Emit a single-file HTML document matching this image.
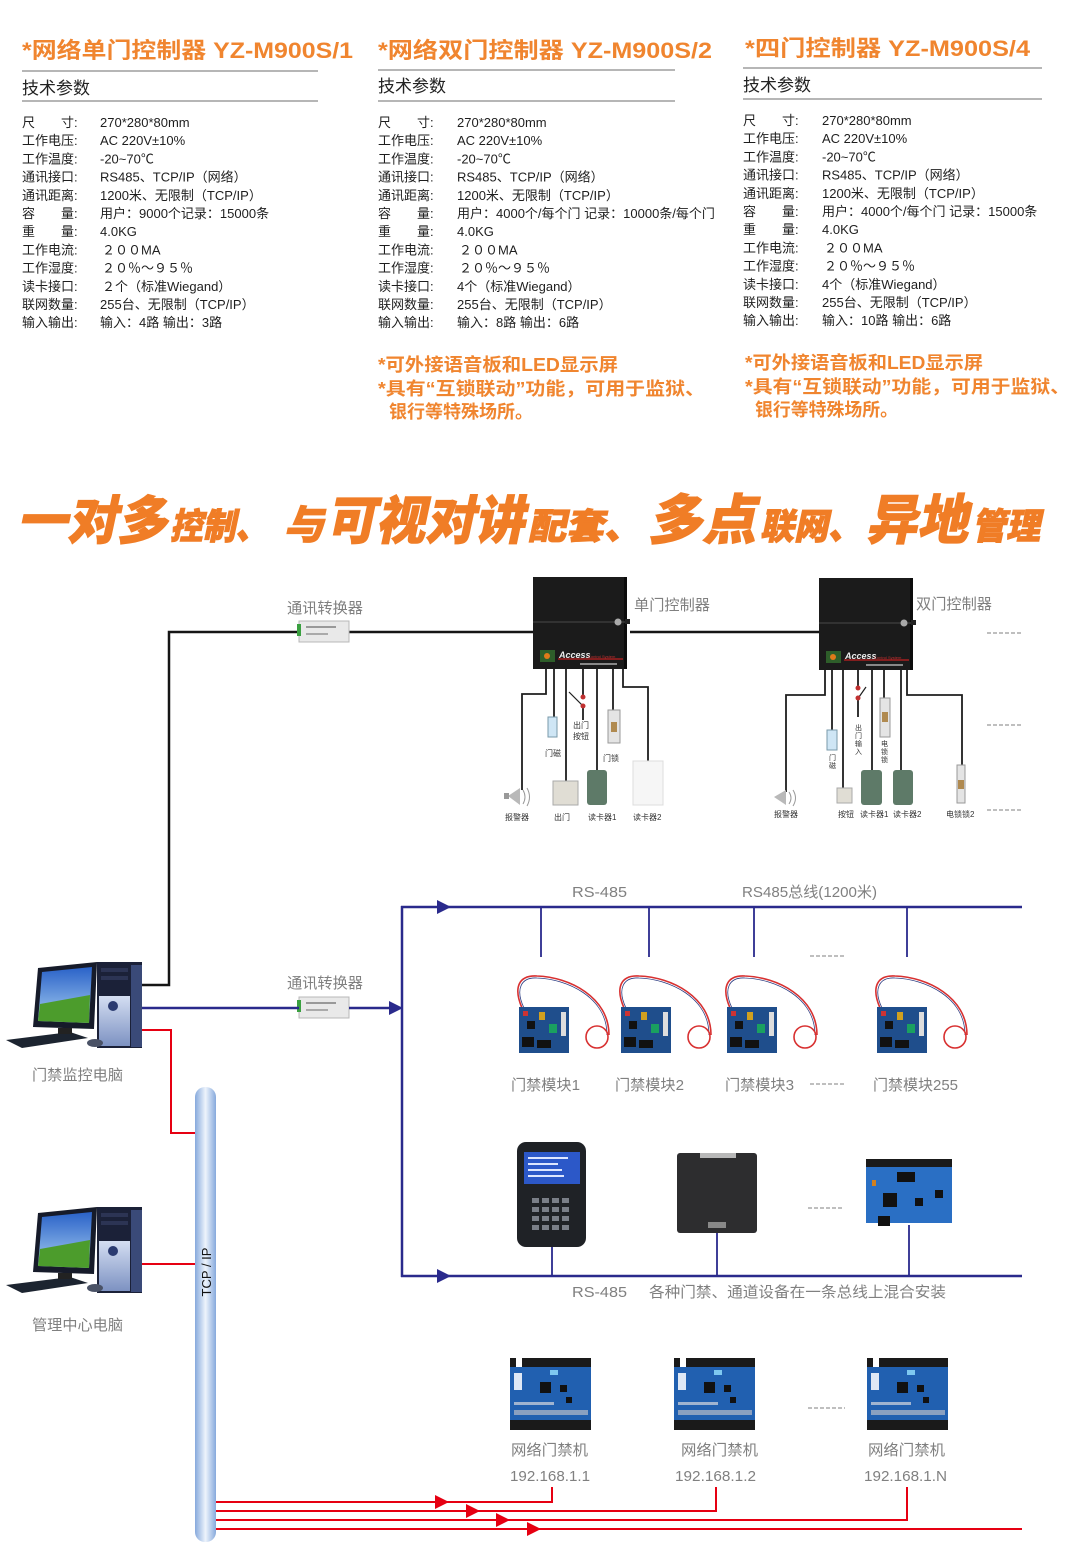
<!DOCTYPE html>
<html><head><meta charset="utf-8">
<style>
html,body{margin:0;padding:0;background:#fff;}
svg{display:block;}
</style></head>
<body>
<svg width="1080" height="1563" viewBox="0 0 1080 1563" xmlns="http://www.w3.org/2000/svg" xmlns:xlink="http://www.w3.org/1999/xlink" font-family="'Liberation Sans','Noto Sans CJK SC',sans-serif">
<defs>
  <linearGradient id="pil" x1="0" x2="1" y1="0" y2="0">
    <stop offset="0" stop-color="#86a9dc"/><stop offset="0.5" stop-color="#eef4fc"/><stop offset="1" stop-color="#86a9dc"/>
  </linearGradient>
  <linearGradient id="sky" x1="0" x2="0" y1="0" y2="1">
    <stop offset="0" stop-color="#2a62c8"/><stop offset="1" stop-color="#a8d0f2"/>
  </linearGradient>
  <linearGradient id="silv" x1="0" x2="0" y1="0" y2="1">
    <stop offset="0" stop-color="#d4def2"/><stop offset="1" stop-color="#7d92c2"/>
  </linearGradient>
  <g id="pc">
    <polygon points="6,1040 70,1032 88,1038 22,1048" fill="#1c2430"/>
    <polygon points="38,968 97,962 94,1029 33,1027" fill="#161b2a"/>
    <polygon points="42,972 92,967 89,1023 38,1021" fill="url(#sky)"/>
    <polygon points="40,1004 90,995 89,1023 38,1021" fill="#4c9c2c"/>
    <rect x="58" y="1028" width="14" height="6" fill="#222"/>
    <rect x="97" y="962" width="45" height="86" fill="#1b2138"/>
    <rect x="99" y="996" width="31" height="50" fill="url(#silv)"/>
    <rect x="131" y="965" width="11" height="82" fill="#3a4a78"/>
    <rect x="101" y="968" width="27" height="4" fill="#2c3454"/>
    <rect x="101" y="976" width="27" height="4" fill="#2c3454"/>
    <circle cx="113" cy="1006" r="5" fill="#2a3a70"/>
    <ellipse cx="95" cy="1043" rx="8" ry="4" fill="#4a5266"/>
  </g>
  <g id="ctl">
    <rect x="0" y="0" width="94" height="92" fill="#1b1b1b"/>
    <rect x="91" y="0" width="3" height="92" fill="#0c0c0c"/>
    <line x1="0" y1="45" x2="94" y2="45" stroke="#4a4a4a" stroke-width="1"/>
    <circle cx="85" cy="45" r="3.5" fill="#aaa"/>
    <rect x="92" y="42" width="5" height="5" fill="#222"/>
    <rect x="7" y="73" width="15" height="12" fill="#2e5e2a"/>
    <circle cx="14" cy="79" r="3" fill="#e07a1a"/>
    <text x="26" y="81" font-size="9" font-weight="bold" font-style="italic" fill="#eee">Access</text>
    <line x1="25" y1="82" x2="90" y2="82" stroke="#c02020" stroke-width="1.2"/>
    <text x="55" y="81" font-size="4" fill="#c03030">Control System</text>
    <rect x="47" y="86" width="37" height="2" fill="#888"/>
  </g>
  <g id="mod">
    <path d="M3,1 C-6,-20 0,-32 18,-31 C50,-30 90,-10 90,28" fill="none" stroke="#d83030" stroke-width="1.6"/>
    <path d="M5,1 C-4,-18 2,-30 18,-29 C48,-28 88,-10 88,28" fill="none" stroke="#2a3a80" stroke-width="0.8"/>
    <circle cx="78" cy="30" r="11" fill="none" stroke="#d83030" stroke-width="1.6"/>
    <rect x="0" y="0" width="50" height="46" fill="#1f4e8c"/>
    <rect x="3" y="30" width="12" height="10" fill="#111"/>
    <rect x="18" y="33" width="14" height="8" fill="#111"/>
    <rect x="30" y="17" width="8" height="9" fill="#1aa060"/>
    <rect x="20" y="5" width="6" height="8" fill="#d0a020"/>
    <rect x="42" y="5" width="5" height="24" fill="#ddd"/>
    <rect x="8" y="14" width="8" height="8" fill="#111"/>
    <rect x="4" y="4" width="5" height="5" fill="#c33"/>
  </g>
  <g id="nb">
    <rect x="0" y="0" width="81" height="9" fill="#1a1a1a"/>
    <rect x="6" y="0" width="6" height="9" fill="#fff"/>
    <rect x="0" y="9" width="81" height="53" fill="#2160b0"/>
    <rect x="0" y="62" width="81" height="10" fill="#1a1a1a"/>
    <rect x="4" y="15" width="8" height="17" fill="#dfe8f5"/>
    <rect x="30" y="24" width="11" height="11" fill="#111"/>
    <rect x="50" y="27" width="7" height="7" fill="#111"/>
    <rect x="56" y="39" width="6" height="6" fill="#111"/>
    <rect x="40" y="12" width="8" height="5" fill="#7ec8f0"/>
    <rect x="4" y="52" width="74" height="5" fill="#8aa0c0"/>
    <rect x="4" y="44" width="40" height="3" fill="#a0b4d0"/>
  </g>
</defs>

<!-- ===== TOP SPEC COLUMNS ===== -->
<g fill="#f0852f" font-weight="bold" font-size="22">
  <text x="22" y="58" textLength="331" lengthAdjust="spacingAndGlyphs">*网络单门控制器 YZ-M900S/1</text>
  <text x="378" y="58" textLength="334" lengthAdjust="spacingAndGlyphs">*网络双门控制器 YZ-M900S/2</text>
  <text x="745" y="56" textLength="285" lengthAdjust="spacingAndGlyphs">*四门控制器 YZ-M900S/4</text>
</g>
<g stroke="#8a8a8a" stroke-width="1.3">
  <line x1="22" y1="71" x2="318" y2="71"/><line x1="22" y1="101" x2="318" y2="101"/>
  <line x1="378" y1="70" x2="675" y2="70"/><line x1="378" y1="101" x2="675" y2="101"/>
  <line x1="743" y1="68" x2="1042" y2="68"/><line x1="743" y1="99" x2="1042" y2="99"/>
</g>
<g fill="#222" font-size="17">
  <text x="22" y="94">技术参数</text>
  <text x="378" y="92">技术参数</text>
  <text x="743" y="91">技术参数</text>
</g>

<g font-size="13" fill="#1e1e1e">
  <g transform="translate(22,0)">
    <text x="0" y="127">尺</text><text x="39" y="127">寸:</text><text x="78" y="127">270*280*80mm</text>
    <text x="0" y="145.2">工作电压:</text><text x="78" y="145.2">AC 220V±10%</text>
    <text x="0" y="163.4">工作温度:</text><text x="78" y="163.4">-20~70℃</text>
    <text x="0" y="181.6">通讯接口:</text><text x="78" y="181.6">RS485、TCP/IP（网络）</text>
    <text x="0" y="199.8">通讯距离:</text><text x="78" y="199.8">1200米、无限制（TCP/IP）</text>
    <text x="0" y="218">容</text><text x="39" y="218">量:</text><text x="78" y="218">用户：9000个记录：15000条</text>
    <text x="0" y="236.2">重</text><text x="39" y="236.2">量:</text><text x="78" y="236.2">4.0KG</text>
    <text x="0" y="254.4">工作电流:</text><text x="80" y="254.4">２００MA</text>
    <text x="0" y="272.6">工作湿度:</text><text x="80" y="272.6">２０％～９５％</text>
    <text x="0" y="290.8">读卡接口:</text><text x="80" y="290.8">２个（标准Wiegand）</text>
    <text x="0" y="309">联网数量:</text><text x="78" y="309">255台、无限制（TCP/IP）</text>
    <text x="0" y="327.2">输入输出:</text><text x="78" y="327.2">输入：4路  输出：3路</text>
  </g>
  <g transform="translate(378,0)">
    <text x="0" y="127">尺</text><text x="39" y="127">寸:</text><text x="79" y="127">270*280*80mm</text>
    <text x="0" y="145.2">工作电压:</text><text x="79" y="145.2">AC 220V±10%</text>
    <text x="0" y="163.4">工作温度:</text><text x="79" y="163.4">-20~70℃</text>
    <text x="0" y="181.6">通讯接口:</text><text x="79" y="181.6">RS485、TCP/IP（网络）</text>
    <text x="0" y="199.8">通讯距离:</text><text x="79" y="199.8">1200米、无限制（TCP/IP）</text>
    <text x="0" y="218">容</text><text x="39" y="218">量:</text><text x="79" y="218">用户：4000个/每个门 记录：10000条/每个门</text>
    <text x="0" y="236.2">重</text><text x="39" y="236.2">量:</text><text x="79" y="236.2">4.0KG</text>
    <text x="0" y="254.4">工作电流:</text><text x="81" y="254.4">２００MA</text>
    <text x="0" y="272.6">工作湿度:</text><text x="81" y="272.6">２０％～９５％</text>
    <text x="0" y="290.8">读卡接口:</text><text x="79" y="290.8">4个（标准Wiegand）</text>
    <text x="0" y="309">联网数量:</text><text x="79" y="309">255台、无限制（TCP/IP）</text>
    <text x="0" y="327.2">输入输出:</text><text x="79" y="327.2">输入：8路  输出：6路</text>
  </g>
  <g transform="translate(743,-2)">
    <text x="0" y="127">尺</text><text x="39" y="127">寸:</text><text x="79" y="127">270*280*80mm</text>
    <text x="0" y="145.2">工作电压:</text><text x="79" y="145.2">AC 220V±10%</text>
    <text x="0" y="163.4">工作温度:</text><text x="79" y="163.4">-20~70℃</text>
    <text x="0" y="181.6">通讯接口:</text><text x="79" y="181.6">RS485、TCP/IP（网络）</text>
    <text x="0" y="199.8">通讯距离:</text><text x="79" y="199.8">1200米、无限制（TCP/IP）</text>
    <text x="0" y="218">容</text><text x="39" y="218">量:</text><text x="79" y="218">用户：4000个/每个门 记录：15000条</text>
    <text x="0" y="236.2">重</text><text x="39" y="236.2">量:</text><text x="79" y="236.2">4.0KG</text>
    <text x="0" y="254.4">工作电流:</text><text x="81" y="254.4">２００MA</text>
    <text x="0" y="272.6">工作湿度:</text><text x="81" y="272.6">２０％～９５％</text>
    <text x="0" y="290.8">读卡接口:</text><text x="79" y="290.8">4个（标准Wiegand）</text>
    <text x="0" y="309">联网数量:</text><text x="79" y="309">255台、无限制（TCP/IP）</text>
    <text x="0" y="327.2">输入输出:</text><text x="79" y="327.2">输入：10路  输出：6路</text>
  </g>
</g>

<g fill="#f0852f" font-weight="bold" font-size="18">
  <text x="378" y="371" textLength="240" lengthAdjust="spacingAndGlyphs">*可外接语音板和LED显示屏</text>
  <text x="378" y="395" textLength="327" lengthAdjust="spacingAndGlyphs">*具有“互锁联动”功能，可用于监狱、</text>
  <text x="389" y="418" textLength="144" lengthAdjust="spacingAndGlyphs">银行等特殊场所。</text>
  <text x="745" y="369" textLength="238" lengthAdjust="spacingAndGlyphs">*可外接语音板和LED显示屏</text>
  <text x="745" y="393" textLength="325" lengthAdjust="spacingAndGlyphs">*具有“互锁联动”功能，可用于监狱、</text>
  <text x="755" y="416" textLength="143" lengthAdjust="spacingAndGlyphs">银行等特殊场所。</text>
</g>

<!-- ===== HEADLINE ===== -->
<g transform="translate(0,539) skewX(-12)" fill="#f07d26" stroke="#f07d26" stroke-width="1" font-weight="900" font-family="'Noto Sans CJK SC','WenQuanYi Zen Hei',sans-serif">
  <text x="17" y="0" font-size="52" textLength="150" lengthAdjust="spacingAndGlyphs">一对多</text>
  <text x="170" y="0" font-size="36" textLength="98" lengthAdjust="spacingAndGlyphs">控制、</text>
  <text x="284" y="0" font-size="40" textLength="40" lengthAdjust="spacingAndGlyphs">与</text>
  <text x="326" y="0" font-size="52" textLength="198" lengthAdjust="spacingAndGlyphs">可视对讲</text>
  <text x="528" y="0" font-size="36" textLength="114" lengthAdjust="spacingAndGlyphs">配套、</text>
  <text x="648" y="0" font-size="54" textLength="108" lengthAdjust="spacingAndGlyphs">多点</text>
  <text x="760" y="0" font-size="36" textLength="102" lengthAdjust="spacingAndGlyphs">联网、</text>
  <text x="866" y="0" font-size="54" textLength="102" lengthAdjust="spacingAndGlyphs">异地</text>
  <text x="972" y="0" font-size="36" textLength="68" lengthAdjust="spacingAndGlyphs">管理</text>
</g>

<!-- ===== DIAGRAM: black branch ===== -->
<g fill="none" stroke="#151515" stroke-width="2.5">
  <path d="M142,985 H169 V632 H299"/>
  <path d="M349,632 H533"/>
  <path d="M630,632 H819"/>
</g>
<!-- converters -->
<g>
  <rect x="299" y="621" width="50" height="21" fill="#e9e9e9" stroke="#b8b8b8" stroke-width="1"/>
  <rect x="297" y="624" width="4" height="12" fill="#3aa040"/>
  <rect x="306" y="626" width="30" height="2" fill="#999"/>
  <rect x="306" y="633" width="22" height="2" fill="#aaa"/>
  <rect x="299" y="997" width="50" height="21" fill="#e9e9e9" stroke="#b8b8b8" stroke-width="1"/>
  <rect x="297" y="1000" width="4" height="12" fill="#3aa040"/>
  <rect x="306" y="1002" width="30" height="2" fill="#999"/>
  <rect x="306" y="1009" width="22" height="2" fill="#aaa"/>
</g>
<g fill="#808080" font-size="15">
  <text x="287" y="613" textLength="76" lengthAdjust="spacingAndGlyphs">通讯转换器</text>
  <text x="287" y="988" textLength="76" lengthAdjust="spacingAndGlyphs">通讯转换器</text>
  <text x="634" y="610" textLength="76" lengthAdjust="spacingAndGlyphs">单门控制器</text>
  <text x="916" y="609" textLength="76" lengthAdjust="spacingAndGlyphs">双门控制器</text>
</g>

<!-- controllers -->
<use xlink:href="#ctl" href="#ctl" transform="translate(533,577)"/>
<use xlink:href="#ctl" href="#ctl" transform="translate(819,578)"/>

<!-- controller 1 wiring -->
<g fill="none" stroke="#1e1e1e" stroke-width="1.8">
  <path d="M546,669 V694 H522 V790"/>
  <path d="M554,669 V717"/>
  <path d="M566,669 V782"/>
  <path d="M583,669 V697"/>
  <path d="M583,706 V720"/>
  <path d="M597,669 V772"/>
  <path d="M613,669 V710"/>
  <path d="M623,669 V687 H648 V762"/>
  <path d="M569,692 L582,705" stroke-width="1.2"/>
</g>
<g>
  <polygon points="508,796 520,788 520,805" fill="#b9b9b9"/>
  <rect x="504" y="793" width="5" height="6" fill="#999"/>
  <path d="M523,790 q4,7 0,14 M527,788 q5,9 0,18" fill="none" stroke="#999" stroke-width="1"/>
  <rect x="548" y="717" width="9" height="20" fill="#cfe6f5" stroke="#7a9aaa" stroke-width="1"/>
  <circle cx="583" cy="697" r="2.5" fill="#c03030"/>
  <circle cx="583" cy="706" r="2.5" fill="#c03030"/>
  <rect x="553" y="781" width="25" height="24" fill="#e0ddd4" stroke="#aaa" stroke-width="1"/>
  <rect x="587" y="770" width="20" height="35" rx="3" fill="#5e7a68"/>
  <rect x="608" y="710" width="12" height="33" fill="#e4e4e4" stroke="#999" stroke-width="1"/>
  <rect x="611" y="722" width="6" height="10" fill="#b08a50"/>
  <rect x="633" y="761" width="30" height="44" fill="#f6f6f6" stroke="#ddd" stroke-width="1"/>
</g>
<g fill="#333" font-size="8">
  <text x="505" y="820">报警器</text>
  <text x="554" y="820">出门</text>
  <text x="588" y="820">读卡器1</text>
  <text x="633" y="820">读卡器2</text>
  <text x="545" y="756">门磁</text>
  <text x="573" y="728">出门</text>
  <text x="573" y="739">按钮</text>
  <text x="603" y="761">门锁</text>
</g>

<!-- controller 2 wiring -->
<g fill="none" stroke="#1e1e1e" stroke-width="1.8">
  <path d="M825,670 V695 H786 V792"/>
  <path d="M832,670 V730"/>
  <path d="M843,670 V788"/>
  <path d="M858,670 V688"/>
  <path d="M858,698 V717"/>
  <path d="M872,670 V770"/>
  <path d="M884,670 V698"/>
  <path d="M901,670 V770"/>
  <path d="M907,670 V695 H962 V765"/>
  <path d="M859,697 L866,687" stroke-width="1.2"/>
</g>
<g>
  <polygon points="774,797 786,790 786,805" fill="#b9b9b9"/>
  <path d="M789,792 q4,6 0,12 M793,790 q5,8 0,16" fill="none" stroke="#999" stroke-width="1"/>
  <rect x="827" y="730" width="10" height="20" fill="#cfe6f5" stroke="#7a9aaa" stroke-width="1"/>
  <circle cx="858" cy="688" r="2.5" fill="#c03030"/>
  <circle cx="858" cy="698" r="2.5" fill="#c03030"/>
  <rect x="837" y="788" width="15" height="15" fill="#e0ddd4" stroke="#aaa" stroke-width="1"/>
  <rect x="861" y="770" width="21" height="35" rx="3" fill="#5e7a68"/>
  <rect x="880" y="698" width="10" height="39" fill="#e4e4e4" stroke="#999" stroke-width="1"/>
  <rect x="882" y="712" width="6" height="10" fill="#b08a50"/>
  <rect x="893" y="770" width="20" height="35" rx="3" fill="#5e7a68"/>
  <rect x="957" y="765" width="8" height="38" fill="#e4e4e4" stroke="#999" stroke-width="1"/>
  <rect x="958" y="780" width="6" height="9" fill="#b08a50"/>
</g>
<g fill="#333" font-size="8">
  <text x="774" y="817">报警器</text>
  <text x="838" y="817">按钮</text>
  <text x="860" y="817">读卡器1</text>
  <text x="893" y="817">读卡器2</text>
  <text x="946" y="817">电锁锁2</text>
  <text x="829" y="760" font-size="7">门</text>
  <text x="829" y="768" font-size="7">磁</text>
  <text x="855" y="730" font-size="7">出</text>
  <text x="855" y="738" font-size="7">门</text>
  <text x="855" y="746" font-size="7">输</text>
  <text x="855" y="754" font-size="7">入</text>
  <text x="881" y="746" font-size="7">电</text>
  <text x="881" y="754" font-size="7">锁</text>
  <text x="881" y="762" font-size="7">锁</text>
</g>
<g stroke="#999" stroke-width="1.2" stroke-dasharray="4,2">
  <line x1="987" y1="633" x2="1022" y2="633"/>
  <line x1="987" y1="725" x2="1022" y2="725"/>
  <line x1="987" y1="810" x2="1022" y2="810"/>
</g>

<!-- ===== BLUE RS485 ===== -->
<g fill="none" stroke="#2a2a8c" stroke-width="2.5">
  <path d="M142,1008 H299"/>
  <path d="M349,1008 H392"/>
  <path d="M402,906 V1277"/>
  <path d="M401,907 H1022"/>
  <path d="M401,1276 H1022"/>
</g>
<g fill="#2a2a8c">
  <polygon points="389,1001 403,1008 389,1015"/>
  <polygon points="437,900 451,907 437,914"/>
  <polygon points="437,1269 451,1276 437,1283"/>
</g>
<g fill="none" stroke="#2a2a8c" stroke-width="1.8">
  <path d="M541,907 V957"/><path d="M649,907 V957"/><path d="M754,907 V957"/><path d="M907,907 V957"/>
  <path d="M552,1247 V1276"/><path d="M717,1233 V1276"/><path d="M909,1225 V1276"/>
</g>
<g stroke="#999" stroke-width="1.2" stroke-dasharray="4,2">
  <line x1="810" y1="956" x2="846" y2="956"/>
  <line x1="810" y1="1084" x2="846" y2="1084"/>
  <line x1="808" y1="1208" x2="844" y2="1208"/>
  <line x1="808" y1="1408" x2="845" y2="1408"/>
</g>
<g fill="#808080" font-size="15">
  <text x="572" y="897" textLength="55" lengthAdjust="spacingAndGlyphs">RS-485</text>
  <text x="742" y="897" textLength="135" lengthAdjust="spacingAndGlyphs">RS485总线(1200米)</text>
  <text x="511" y="1090" textLength="69" lengthAdjust="spacingAndGlyphs">门禁模块1</text>
  <text x="615" y="1090" textLength="69" lengthAdjust="spacingAndGlyphs">门禁模块2</text>
  <text x="725" y="1090" textLength="69" lengthAdjust="spacingAndGlyphs">门禁模块3</text>
  <text x="873" y="1090" textLength="85" lengthAdjust="spacingAndGlyphs">门禁模块255</text>
  <text x="572" y="1297" textLength="55" lengthAdjust="spacingAndGlyphs">RS-485</text>
  <text x="649" y="1297" textLength="297" lengthAdjust="spacingAndGlyphs">各种门禁、通道设备在一条总线上混合安装</text>
</g>

<use xlink:href="#mod" href="#mod" transform="translate(519,1007)"/>
<use xlink:href="#mod" href="#mod" transform="translate(621,1007)"/>
<use xlink:href="#mod" href="#mod" transform="translate(727,1007)"/>
<use xlink:href="#mod" href="#mod" transform="translate(877,1007)"/>

<!-- keypad -->
<g>
  <rect x="517" y="1142" width="69" height="105" rx="9" fill="#1f2226"/>
  <rect x="524" y="1152" width="56" height="32" fill="#2c58c8"/>
  <g fill="#dde6ff" font-size="4"><rect x="528" y="1157" width="40" height="2"/><rect x="528" y="1163" width="30" height="2"/><rect x="528" y="1169" width="34" height="2"/><rect x="528" y="1175" width="36" height="2"/></g>
  <g fill="#7a7f88">
    <rect x="532" y="1198" width="7" height="5"/><rect x="542" y="1198" width="7" height="5"/><rect x="552" y="1198" width="7" height="5"/><rect x="562" y="1198" width="7" height="5"/>
    <rect x="532" y="1207" width="7" height="5"/><rect x="542" y="1207" width="7" height="5"/><rect x="552" y="1207" width="7" height="5"/><rect x="562" y="1207" width="7" height="5"/>
    <rect x="532" y="1216" width="7" height="5"/><rect x="542" y="1216" width="7" height="5"/><rect x="552" y="1216" width="7" height="5"/><rect x="562" y="1216" width="7" height="5"/>
    <rect x="532" y="1225" width="7" height="5"/><rect x="542" y="1225" width="7" height="5"/><rect x="552" y="1225" width="7" height="5"/><rect x="562" y="1225" width="7" height="5"/>
  </g>
</g>
<!-- reader -->
<g>
  <rect x="677" y="1153" width="80" height="80" rx="3" fill="#2d2d2f"/>
  <rect x="700" y="1153" width="36" height="5" fill="#b8b8b8"/>
  <rect x="708" y="1222" width="18" height="6" fill="#888"/>
</g>
<!-- board -->
<g>
  <rect x="866" y="1165" width="86" height="58" fill="#2a6fc4"/>
  <rect x="866" y="1159" width="86" height="8" fill="#1a1a1a"/>
  <rect x="897" y="1172" width="18" height="10" fill="#111"/>
  <rect x="883" y="1193" width="14" height="14" fill="#111"/>
  <rect x="915" y="1198" width="8" height="8" fill="#111"/>
  <rect x="935" y="1190" width="8" height="8" fill="#111"/>
  <rect x="878" y="1216" width="12" height="10" fill="#111"/>
  <rect x="872" y="1180" width="4" height="6" fill="#d08020"/>
</g>

<!-- ===== PCs ===== -->
<use xlink:href="#pc" href="#pc"/>
<use xlink:href="#pc" href="#pc" transform="translate(0,245)"/>
<g fill="#808080" font-size="15">
  <text x="32" y="1080" textLength="91" lengthAdjust="spacingAndGlyphs">门禁监控电脑</text>
  <text x="32" y="1330" textLength="91" lengthAdjust="spacingAndGlyphs">管理中心电脑</text>
</g>

<!-- ===== TCP/IP ===== -->
<rect x="195" y="1087" width="21" height="455" rx="10" fill="url(#pil)"/>
<text transform="translate(211,1272) rotate(-90)" text-anchor="middle" font-size="13" fill="#111">TCP / IP</text>

<g fill="none" stroke="#e60012" stroke-width="2">
  <path d="M142,1030 H171 V1133 H195"/>
  <path d="M142,1264 H195"/>
  <path d="M216,1502 H552 V1487"/>
  <path d="M216,1511 H716 V1487"/>
  <path d="M216,1520 H907 V1487"/>
  <path d="M216,1529 H1022"/>
</g>
<g fill="#e60012">
  <polygon points="435,1495 449,1502 435,1509"/>
  <polygon points="466,1504 480,1511 466,1518"/>
  <polygon points="496,1513 510,1520 496,1527"/>
  <polygon points="527,1522 541,1529 527,1536"/>
</g>

<use xlink:href="#nb" href="#nb" transform="translate(510,1358)"/>
<use xlink:href="#nb" href="#nb" transform="translate(674,1358)"/>
<use xlink:href="#nb" href="#nb" transform="translate(867,1358)"/>
<g fill="#808080" font-size="15">
  <text x="511" y="1455" textLength="77" lengthAdjust="spacingAndGlyphs">网络门禁机</text>
  <text x="681" y="1455" textLength="77" lengthAdjust="spacingAndGlyphs">网络门禁机</text>
  <text x="868" y="1455" textLength="77" lengthAdjust="spacingAndGlyphs">网络门禁机</text>
  <text x="510" y="1481" textLength="80" lengthAdjust="spacingAndGlyphs">192.168.1.1</text>
  <text x="675" y="1481" textLength="81" lengthAdjust="spacingAndGlyphs">192.168.1.2</text>
  <text x="864" y="1481" textLength="83" lengthAdjust="spacingAndGlyphs">192.168.1.N</text>
</g>
</svg>
</body></html>
